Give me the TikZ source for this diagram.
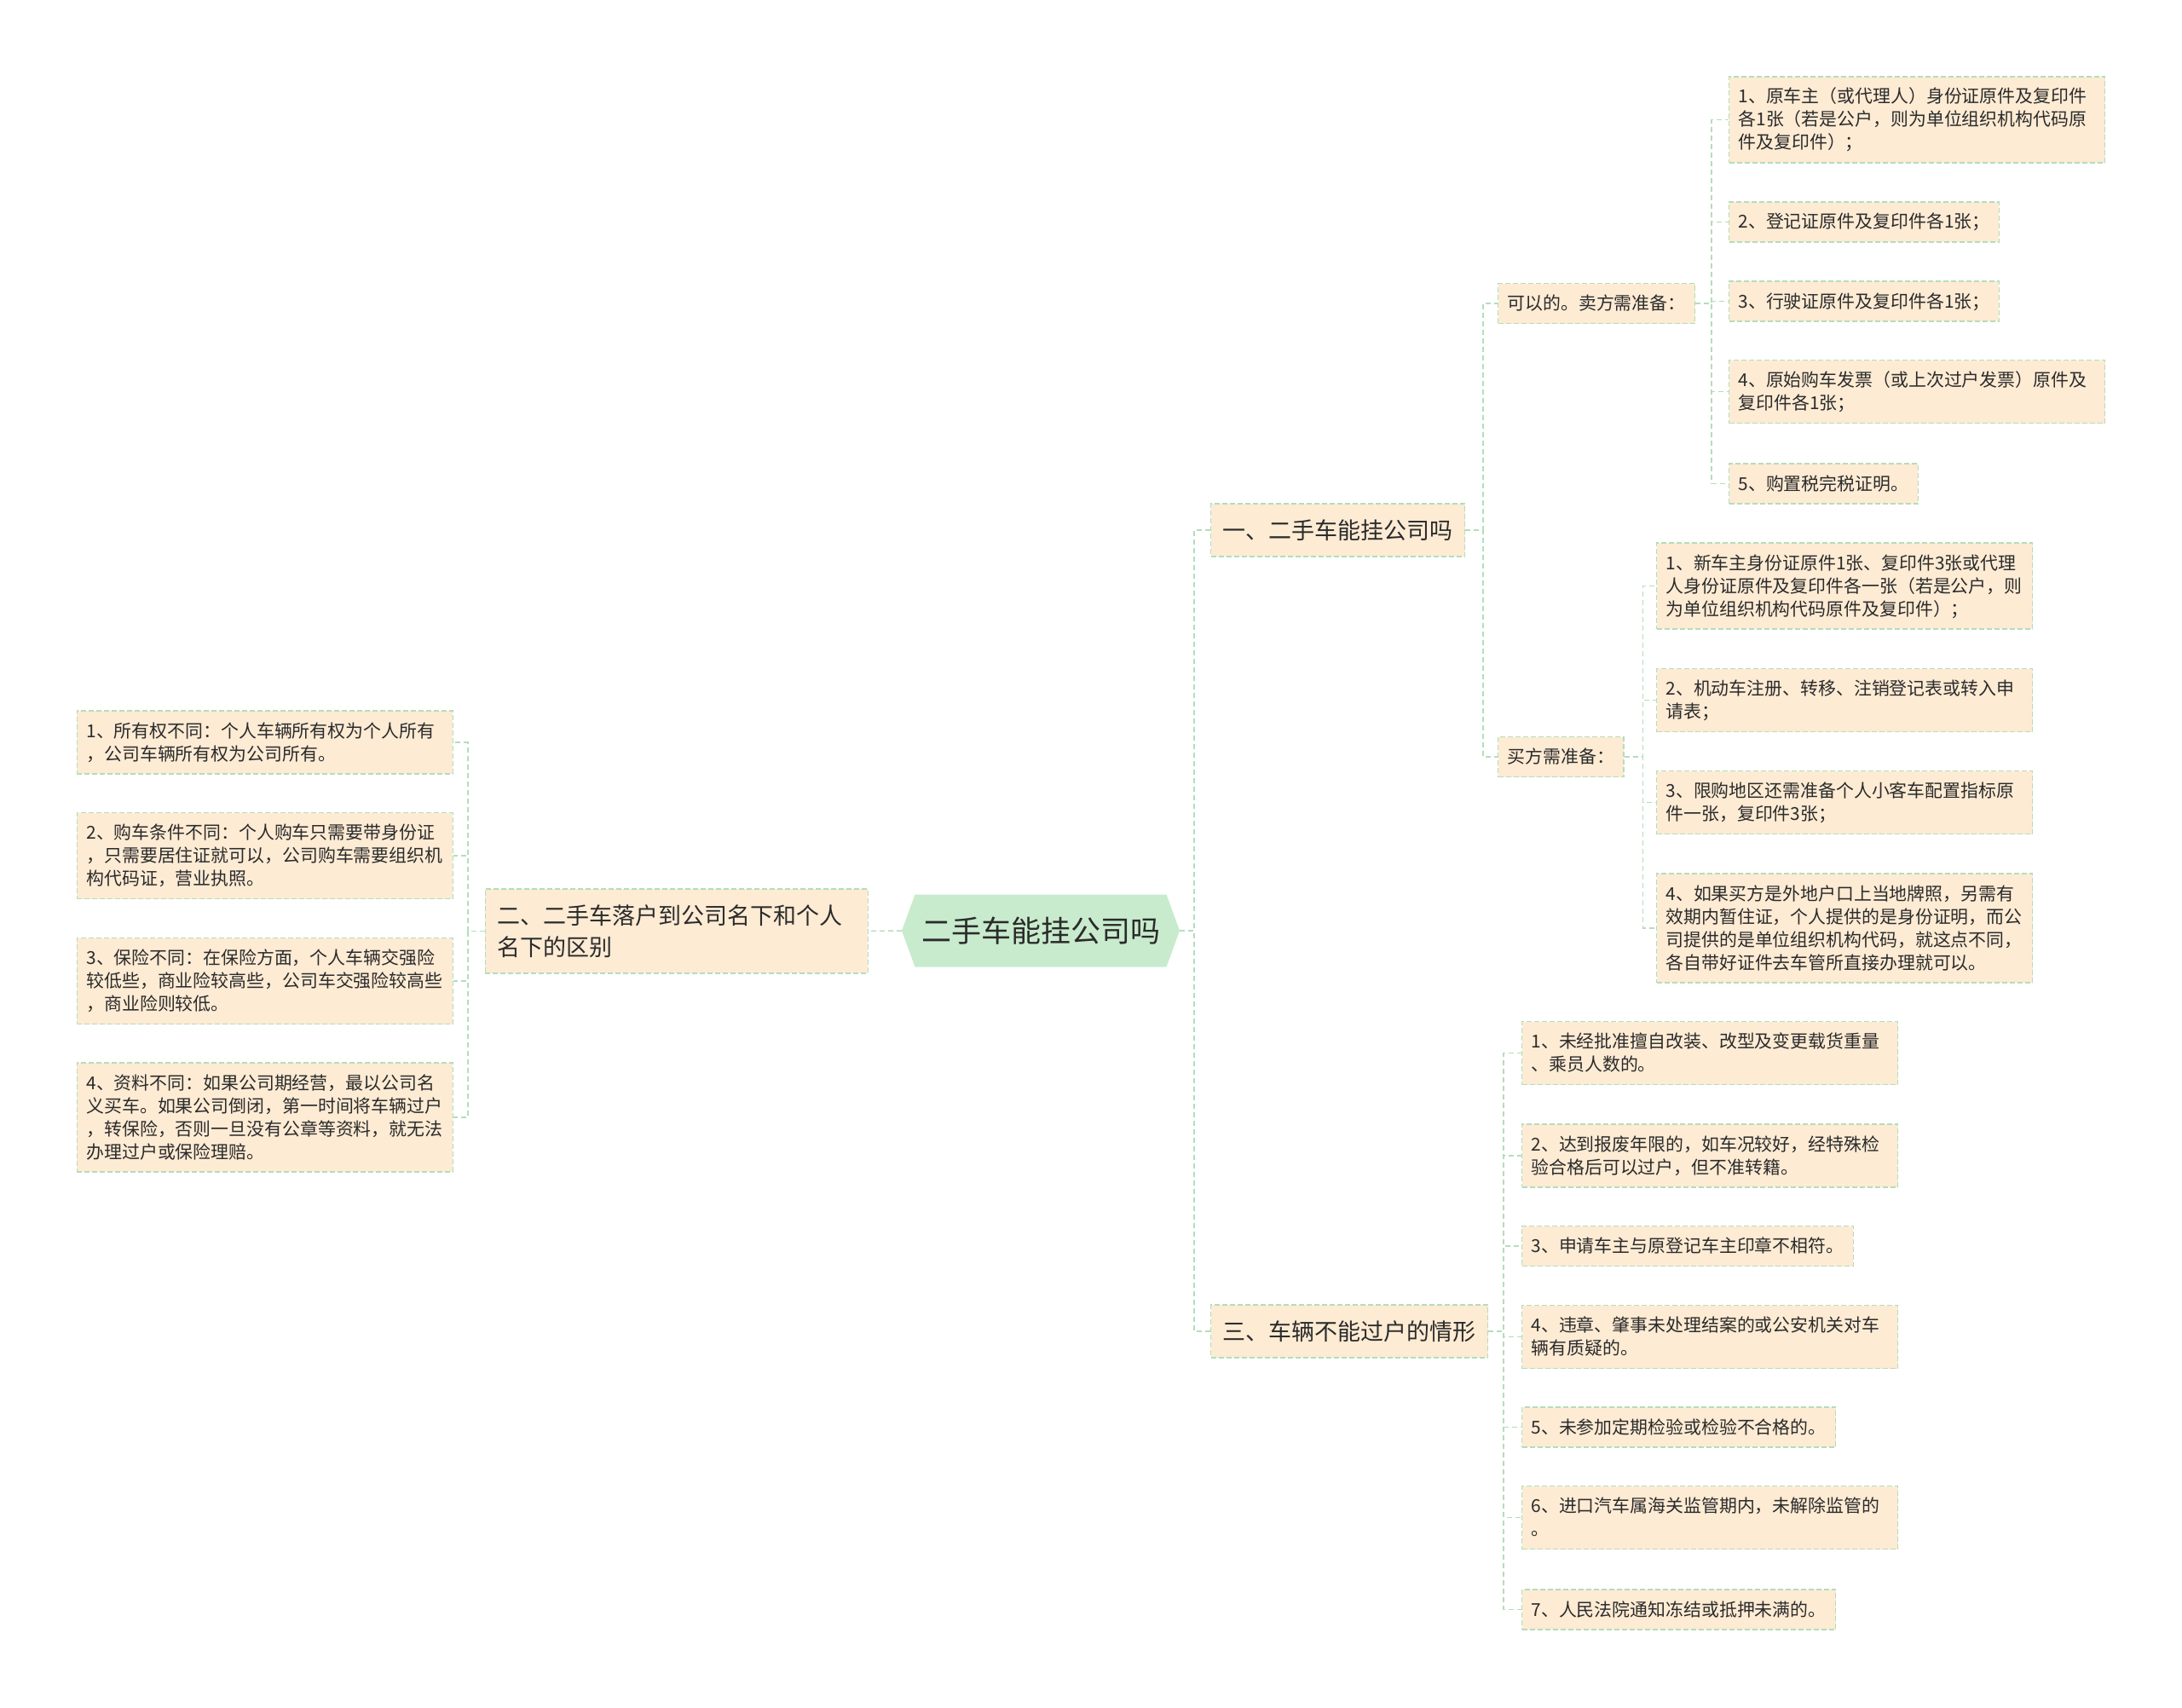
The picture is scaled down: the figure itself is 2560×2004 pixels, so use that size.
\documentclass[tikz,border=0pt]{standalone}
\usepackage{fontspec}
\setmainfont{Noto Sans CJK SC}
\usetikzlibrary{shapes.symbols}
\definecolor{rootgreen}{HTML}{C8EBCD}
\definecolor{peach}{HTML}{FDEBD4}
\definecolor{linkgreen}{HTML}{B4DDBA}
\definecolor{inkgray}{HTML}{2B2B2B}
\newcommand{\leafstrut}{\rule[-6pt]{0pt}{27pt}}
\newcommand{\topicstrut}{\rule[-8pt]{0pt}{37pt}}
\tikzset{
  rootbox/.style={shape=signal, signal to=east and west, signal pointer angle=140,
    fill=rootgreen, text=inkgray, minimum height=85pt, minimum width=326pt,
    font=\fontsize{35}{42}\selectfont},
  topicbox/.style={fill=peach, draw=linkgreen, line width=1.1pt, dash pattern=on 6pt off 3pt,
    text=inkgray, align=left, inner xsep=14pt, inner ysep=12.5pt,
    font=\fontsize{27}{37}\selectfont, execute at begin node=\topicstrut, execute at end node=\topicstrut},
  leafbox/.style={fill=peach, draw=linkgreen, line width=1.1pt, dash pattern=on 6pt off 3pt,
    text=inkgray, align=left, inner xsep=11pt, inner ysep=10pt,
    font=\fontsize{20.9}{27}\selectfont, execute at begin node=\leafstrut, execute at end node=\leafstrut},
  wideleaf/.style={leafbox, text width=419pt},
  link/.style={draw=linkgreen, line width=1.5pt, dash pattern=on 6pt off 4pt},
}
\begin{document}
\begin{tikzpicture}[x=1pt,y=-1pt]
\useasboundingbox (0,0) rectangle (2560,2004);

% centre
\node[rootbox] (root) at (1221,1092) {二手车能挂公司吗};

% first level
\node[topicbox, anchor=west] (one) at (1420,622) {一、二手车能挂公司吗};
\node[topicbox, anchor=east, text width=421pt] (two) at (1019,1092.5) {二、二手车落户到公司名下和个人\\名下的区别};
\node[topicbox, anchor=west] (three) at (1420,1562) {三、车辆不能过户的情形};

% seller / buyer
\node[leafbox, anchor=west] (sell) at (1757,356) {可以的。卖方需准备：};
\node[leafbox, anchor=west] (buy) at (1757,888) {买方需准备：};

\node[wideleaf, anchor=west] (s1) at (2028,140.5) {1、原车主（或代理人）身份证原件及复印件\\各1张（若是公户，则为单位组织机构代码原\\件及复印件）；};
\node[leafbox, anchor=west] (s2) at (2028,260.5) {2、登记证原件及复印件各1张；};
\node[leafbox, anchor=west] (s3) at (2028,353.5) {3、行驶证原件及复印件各1张；};
\node[wideleaf, anchor=west] (s4) at (2028,459.5) {4、原始购车发票（或上次过户发票）原件及\\复印件各1张；};
\node[leafbox, anchor=west] (s5) at (2028,567.5) {5、购置税完税证明。};

\node[wideleaf, anchor=west] (b1) at (1943,687.5) {1、新车主身份证原件1张、复印件3张或代理\\人身份证原件及复印件各一张（若是公户，则\\为单位组织机构代码原件及复印件）；};
\node[wideleaf, anchor=west] (b2) at (1943,821.5) {2、机动车注册、转移、注销登记表或转入申\\请表；};
\node[wideleaf, anchor=west] (b3) at (1943,941.5) {3、限购地区还需准备个人小客车配置指标原\\件一张，复印件3张；};
\node[wideleaf, anchor=west] (b4) at (1943,1089) {4、如果买方是外地户口上当地牌照，另需有\\效期内暂住证，个人提供的是身份证明，而公\\司提供的是单位组织机构代码，就这点不同，\\各自带好证件去车管所直接办理就可以。};

% left side
\node[wideleaf, anchor=east] (d1) at (532,871) {1、所有权不同：个人车辆所有权为个人所有\\，公司车辆所有权为公司所有。};
\node[wideleaf, anchor=east] (d2) at (532,1004) {2、购车条件不同：个人购车只需要带身份证\\，只需要居住证就可以，公司购车需要组织机\\构代码证，营业执照。};
\node[wideleaf, anchor=east] (d3) at (532,1151) {3、保险不同：在保险方面，个人车辆交强险\\较低些，商业险较高些，公司车交强险较高些\\，商业险则较低。};
\node[wideleaf, anchor=east] (d4) at (532,1311) {4、资料不同：如果公司期经营，最以公司名\\义买车。如果公司倒闭，第一时间将车辆过户\\，转保险，否则一旦没有公章等资料，就无法\\办理过户或保险理赔。};

% cases
\node[wideleaf, anchor=west] (c1) at (1785,1235.5) {1、未经批准擅自改装、改型及变更载货重量\\、乘员人数的。};
\node[wideleaf, anchor=west] (c2) at (1785,1356) {2、达到报废年限的，如车况较好，经特殊检\\验合格后可以过户，但不准转籍。};
\node[leafbox, anchor=west] (c3) at (1785,1462) {3、申请车主与原登记车主印章不相符。};
\node[wideleaf, anchor=west] (c4) at (1785,1568.5) {4、违章、肇事未处理结案的或公安机关对车\\辆有质疑的。};
\node[leafbox, anchor=west] (c5) at (1785,1674.5) {5、未参加定期检验或检验不合格的。};
\node[wideleaf, anchor=west] (c6) at (1785,1780.5) {6、进口汽车属海关监管期内，未解除监管的\\。};
\node[leafbox, anchor=west] (c7) at (1785,1888.5) {7、人民法院通知冻结或抵押未满的。};

% connectors
\draw[link] (root.west) -- (two.east);
\draw[link] (root.east) -- ++(17,0) |- (one.west);
\draw[link] (root.east) -- ++(17,0) |- (three.west);

\draw[link] (one.east) -- ++(21,0) |- (sell.west);
\draw[link] (one.east) -- ++(21,0) |- (buy.west);

\draw[link] (sell.east) -- ++(19,0) |- (s1.west);
\draw[link] (sell.east) -- ++(19,0) |- (s2.west);
\draw[link] (sell.east) -- ++(19,0) |- (s3.west);
\draw[link] (sell.east) -- ++(19,0) |- (s4.west);
\draw[link] (sell.east) -- ++(19,0) |- (s5.west);

\draw[link] (buy.east) -- ++(22,0) |- (b1.west);
\draw[link] (buy.east) -- ++(22,0) |- (b2.west);
\draw[link] (buy.east) -- ++(22,0) |- (b3.west);
\draw[link] (buy.east) -- ++(22,0) |- (b4.west);

\draw[link] (two.west) -- ++(-20,0) |- (d1.east);
\draw[link] (two.west) -- ++(-20,0) |- (d2.east);
\draw[link] (two.west) -- ++(-20,0) |- (d3.east);
\draw[link] (two.west) -- ++(-20,0) |- (d4.east);

\draw[link] (three.east) -- ++(18,0) |- (c1.west);
\draw[link] (three.east) -- ++(18,0) |- (c2.west);
\draw[link] (three.east) -- ++(18,0) |- (c3.west);
\draw[link] (three.east) -- ++(18,0) |- (c4.west);
\draw[link] (three.east) -- ++(18,0) |- (c5.west);
\draw[link] (three.east) -- ++(18,0) |- (c6.west);
\draw[link] (three.east) -- ++(18,0) |- (c7.west);
\end{tikzpicture}
\end{document}
